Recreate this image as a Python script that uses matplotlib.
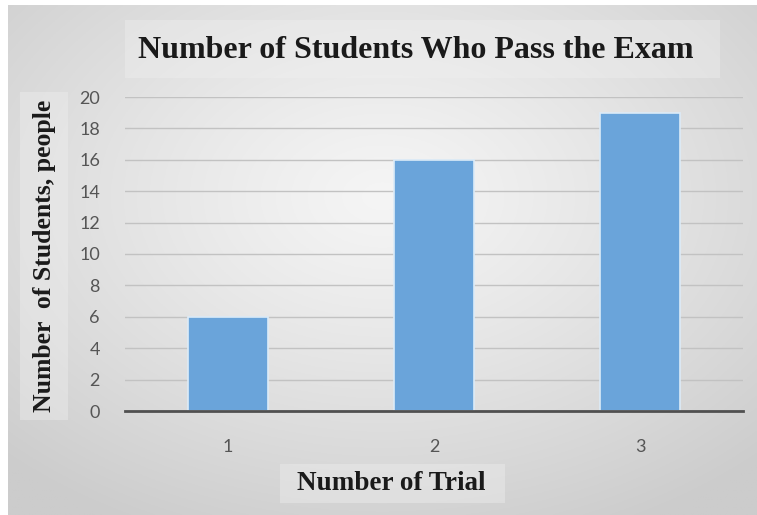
"""Bar chart: Number of Students Who Pass the Exam (Excel-style look)."""
import numpy as np
import matplotlib
matplotlib.use("Agg")
import matplotlib.pyplot as plt
from matplotlib.patches import Rectangle

trials = ["1", "2", "3"]
passed = [6, 16, 19]
yticks = [0, 2, 4, 6, 8, 10, 12, 14, 16, 18, 20]

W, H = 757, 515
fig = plt.figure(figsize=(W / 100, H / 100), dpi=100)
fig.patch.set_facecolor("white")


def px(x0, y0, x1, y1):
    # pixel box (top-left origin) -> figure fraction rect
    return [x0 / W, 1 - y1 / H, (x1 - x0) / W, (y1 - y0) / H]


# radial gray background of the chart area
bg = fig.add_axes(px(8, 5, W, H), zorder=-2)
yy, xx = np.mgrid[-1:1:300j, -1:1:450j]
r = np.clip(np.sqrt(xx ** 2 + (yy + 0.25) ** 2) / 1.45, 0, 1)
c0, c1 = np.array([0.96, 0.96, 0.96]), np.array([0.80, 0.80, 0.80])
img = c0 + (c1 - c0) * r[..., None] ** 1.2
bg.imshow(img, aspect="auto", extent=[0, 1, 0, 1])
bg.axis("off")

# lighter boxes behind title and axis labels
for box in [px(125, 20, 720, 78), px(20, 92, 68, 420), px(280, 464, 505, 503)]:
    fig.patches.append(Rectangle(box[:2], box[2], box[3], transform=fig.transFigure,
                                 facecolor="#f0f0f0", edgecolor="none", alpha=0.4, zorder=-1))

ax = fig.add_axes(px(125, 97, 743, 411))
ax.set_facecolor("none")
x = np.arange(len(trials))
ax.bar(x, passed, width=0.39, color="#6aa4da", edgecolor="#dcebf8", linewidth=1.2, zorder=3)

ax.set_xlim(-0.5, len(trials) - 0.5)
ax.set_ylim(0, 20)
ax.set_yticks(yticks)
ax.set_xticks(x)
ax.set_xticklabels(trials)
ax.grid(axis="y", color="#c2c2c2", linewidth=1.0, zorder=0)
ax.set_axisbelow(True)
for s in ["top", "right", "left"]:
    ax.spines[s].set_visible(False)
ax.spines["bottom"].set_color("#505050")
ax.spines["bottom"].set_linewidth(2)
ax.spines["bottom"].set_zorder(4)
ax.tick_params(axis="both", length=0, labelsize=13, labelcolor="#555555")
ax.tick_params(axis="y", pad=18)
ax.tick_params(axis="x", pad=20)
for lab in ax.get_xticklabels() + ax.get_yticklabels():
    lab.set_family("Lato")

serif = ["Liberation Serif", "DejaVu Serif"]
fig.text(416 / W, 1 - 50 / H, "Number of Students Who Pass the Exam", ha="center", va="center",
         fontsize=23, fontweight="bold", family=serif, color="#1a1a1a")
fig.text(45 / W, 1 - 256 / H, "Number  of Students, people", ha="center", va="center",
         rotation=90, fontsize=18.5, fontweight="bold", family=serif, color="#1a1a1a")
fig.text(391 / W, 1 - 483 / H, "Number of Trial", ha="center", va="center",
         fontsize=19.5, fontweight="bold", family=serif, color="#1a1a1a")

fig.savefig("out.png", dpi=100)
